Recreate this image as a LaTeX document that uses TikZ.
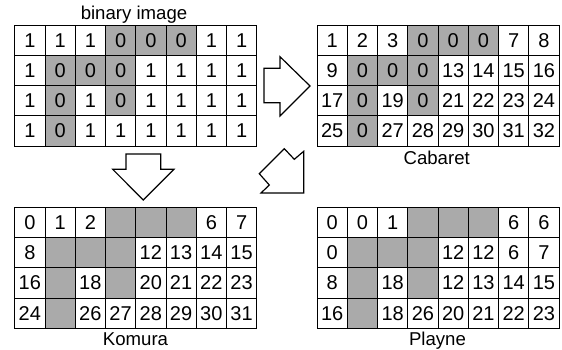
\documentclass[tikz,border=0pt]{standalone}
\usepackage{fontspec}
\setmainfont{Liberation Sans}
\definecolor{graycell}{HTML}{AAAAAA}
\tikzset{
  cell/.style={draw=black, line width=0.9pt, minimum width=30.25pt, minimum height=30.25pt,
    inner sep=0pt, anchor=center, text depth=0pt, font=\fontsize{20}{24}\selectfont},
  caption/.style={anchor=base, inner sep=0pt, font=\fontsize{18.6}{22}\selectfont},
  blockarrow/.style={draw=black, line width=1.2pt, line join=miter, fill=white}
}
\newcommand\drawgrid[4]{% name, x0, y0, rows
  \foreach \row [count=\r from 0] in {#4} {
    \foreach \v [count=\c from 0] in \row {
      \pgfmathtruncatemacro\isg{((\r==0)&&(\c>=3)&&(\c<=5))||((\r==1)&&(\c>=1)&&(\c<=3))||((\r==2)&&((\c==1)||(\c==3)))||((\r==3)&&(\c==1))}
      \ifnum\isg=1 \def\fc{graycell}\else\def\fc{white}\fi
      \node[cell, fill=\fc] (#1-\r-\c) at ({#2+30.25*(\c+0.5)}, {#3+30.25*(\r+0.5)}) {\v};
    }
  }
}
\begin{document}
\begin{tikzpicture}[x=1pt, y=-1pt]
\useasboundingbox (0,0) rectangle (562,349);

\drawgrid{bin}{14.7}{25}{{1,1,1,0,0,0,1,1},{1,0,0,0,1,1,1,1},{1,0,1,0,1,1,1,1},{1,0,1,1,1,1,1,1}}
\drawgrid{cab}{317}{25}{{1,2,3,0,0,0,7,8},{9,0,0,0,13,14,15,16},{17,0,19,0,21,22,23,24},{25,0,27,28,29,30,31,32}}
\drawgrid{kom}{14.7}{207.3}{{0,1,2,,,,6,7},{8,,,,12,13,14,15},{16,,18,,20,21,22,23},{24,,26,27,28,29,30,31}}
\drawgrid{pla}{317}{207.3}{{0,0,1,,,,6,6},{0,,,,12,12,6,7},{8,,18,,12,13,14,15},{16,,18,26,20,21,22,23}}

\node[caption] (capbin) at (134,19.3) {binary image};
\node[caption] (capcab) at (436.7,164.3) {Cabaret};
\node[caption] (capkom) at (135.5,345.7) {Komura};
\node[caption] (cappla) at (437.5,345.7) {Playne};

% right arrow
\draw[blockarrow] (264,68.3) -- (280,68.3) -- (280,56.7) -- (310,86) -- (280,116) -- (280,102.7) -- (264,102.7) -- cycle;
% down arrow
\draw[blockarrow] (126,154) -- (160.7,154) -- (160.7,169.3) -- (174,169.3) -- (143.3,200) -- (112.7,169.3) -- (126,169.3) -- cycle;
% diagonal arrow
\draw[blockarrow] (284.3,148.7) -- (294.3,159.3) -- (303.7,151.3) -- (303.7,193) -- (261,193) -- (269.3,185) -- (259.3,173.7) -- cycle;
\end{tikzpicture}
\end{document}
